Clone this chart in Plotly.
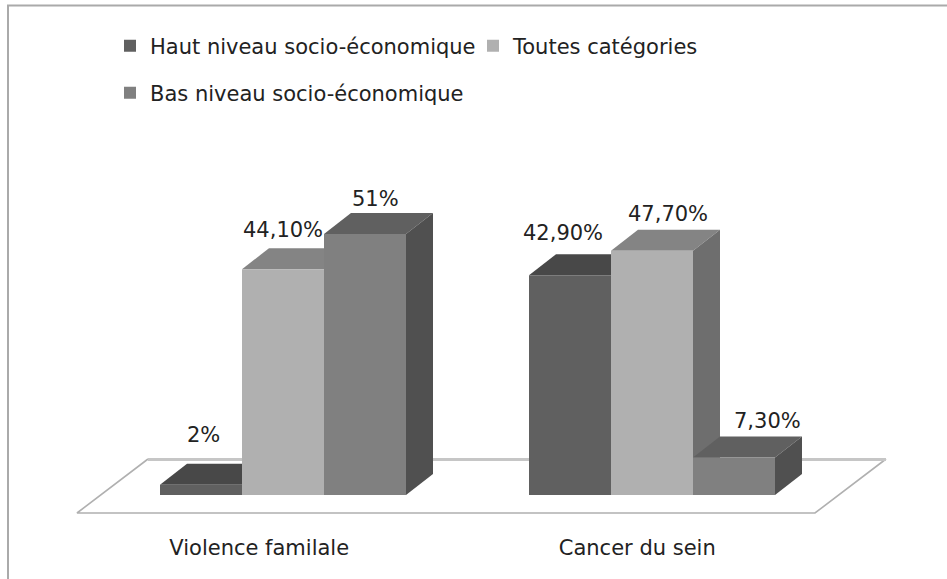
import plotly.graph_objects as go

# ---- data ----
categories = ["Violence familale", "Cancer du sein"]
series_names = ["Haut niveau socio-économique", "Toutes catégories", "Bas niveau socio-économique"]
haut = [2.0, 42.9]
toutes = [44.1, 47.7]
bas = [51.0, 7.3]
haut_labels = ["2%", "42,90%"]
toutes_labels = ["44,10%", "47,70%"]
bas_labels = ["51%", "7,30%"]

# ---- styles / geometry ----
W, H = 947, 579
PX_X = 82.0            # pixels per bar width
PX_Y = 5.12            # pixels per percent
X0_PX = 283.0          # pixel of first group's centre
Y0_PX = 495.0          # pixel of value 0
PLOT_B_PX = 523.0
GROUP_STEP = 4.5
DX = 27 / PX_X         # 3-D depth in x units
DY = 21 / PX_Y         # 3-D depth in y units
FONT = "DejaVu Sans"
FS = 21
TXT = "#222222"
colors = [
    dict(front="#606060", top="#484848", side="#474747"),
    dict(front="#b0b0b0", top="#848484", side="#6e6e6e"),
    dict(front="#808080", top="#606060", side="#505050"),
]
label_shift = [[(2, 50), (-7, 42)], [(0, 39), (16, 37)], [(10, 35), (33, 37)]]
tick_offsets = [-0.29, -0.18]

values = [haut, toutes, bas]
labels = [haut_labels, toutes_labels, bas_labels]
group_x = [i * GROUP_STEP for i in range(len(categories))]


def px_x(p):
    return (p - X0_PX) / PX_X


def px_y(p):
    return (Y0_PX - p) / PX_Y


fig = go.Figure()

# floor
fx = [px_x(148), px_x(77), px_x(815), px_x(886)]
fy = [px_y(459), px_y(513), px_y(513), px_y(459)]
fig.add_trace(go.Scatter(x=fx, y=fy, mode="lines", fill="toself", fillcolor="white",
                         line=dict(color="#b0b0b0", width=1.6), showlegend=False,
                         hoverinfo="skip", zorder=-2))
fig.add_trace(go.Scatter(x=[px_x(148), px_x(886)], y=[px_y(459.5), px_y(459.5)], mode="lines",
                         line=dict(color="#c6c6c6", width=3), showlegend=False,
                         hoverinfo="skip", zorder=-1))

annotations = []
for s, (name, vals, labs, col) in enumerate(zip(series_names, values, labels, colors)):
    xs = [g + s - 1 for g in group_x]
    for x, v in zip(xs, vals):
        l, r = x - 0.5, x + 0.5
        # top face
        fig.add_trace(go.Scatter(x=[l, r, r + DX, l + DX, l], y=[v, v, v + DY, v + DY, v],
                                 mode="lines", fill="toself", fillcolor=col["top"],
                                 line=dict(width=0), showlegend=False, hoverinfo="skip",
                                 zorder=2 * s))
        # side face
        fig.add_trace(go.Scatter(x=[r, r + DX, r + DX, r, r], y=[0, DY, v + DY, v, 0],
                                 mode="lines", fill="toself", fillcolor=col["side"],
                                 line=dict(width=0), showlegend=False, hoverinfo="skip",
                                 zorder=2 * s))
    # front faces
    fig.add_trace(go.Bar(x=xs, y=vals, width=1, name=name,
                         marker=dict(color=col["front"], line=dict(width=0)),
                         legend="legend2" if s == 2 else "legend",
                         zorder=2 * s + 1))
    for i, (x, v, t) in enumerate(zip(xs, vals, labs)):
        sx, sy = label_shift[s][i]
        annotations.append(dict(x=x, y=v, text=t, showarrow=False, xshift=sx, yshift=sy,
                                xanchor="center", yanchor="middle",
                                font=dict(family=FONT, size=FS, color=TXT)))

plot_h = PLOT_B_PX
legend_common = dict(orientation="h", xanchor="left", yanchor="middle",
                     bgcolor="rgba(0,0,0,0)", borderwidth=0,
                     font=dict(family=FONT, size=FS, color=TXT))

fig.update_layout(
    width=W, height=H, autosize=False,
    margin=dict(l=0, r=0, t=0, b=H - PLOT_B_PX, pad=0),
    paper_bgcolor="white", plot_bgcolor="white",
    barmode="overlay", showlegend=True,
    xaxis=dict(range=[px_x(0), px_x(W)], tickvals=[g + o for g, o in zip(group_x, tick_offsets)],
               ticktext=categories, showgrid=False, zeroline=False, showline=False,
               ticks="", ticklabelstandoff=10,
               tickfont=dict(family=FONT, size=FS, color=TXT), fixedrange=True),
    yaxis=dict(range=[px_y(PLOT_B_PX), px_y(0)], visible=False, fixedrange=True),
    legend=dict(x=110 / W, y=1 - 46 / plot_h, entrywidth=318, entrywidthmode="pixels",
                **legend_common),
    legend2=dict(x=110 / W, y=1 - 93 / plot_h, **legend_common),
    annotations=annotations,
    shapes=[dict(type="rect", xref="paper", yref="paper", layer="below",
                 x0=8 / W, x1=1.1, y0=-0.3, y1=1 - 5.5 / plot_h,
                 line=dict(color="#aaaaaa", width=2))],
)

fig.write_html("out.html", config={"displayModeBar": False},
               post_script="document.body.style.margin='0';document.body.style.overflow='hidden';")
